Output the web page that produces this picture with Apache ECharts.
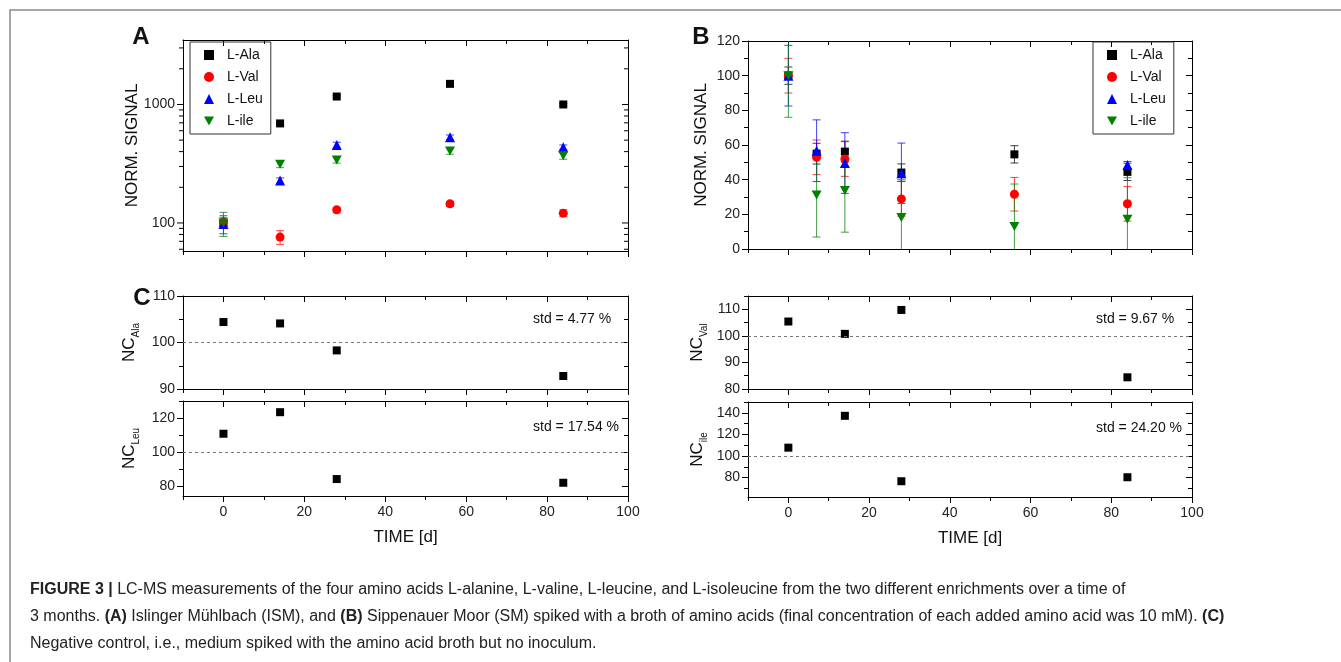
<!DOCTYPE html>
<html><head><meta charset="utf-8">
<script src="https://cdn.jsdelivr.net/npm/echarts@6/dist/echarts.min.js"></script>
<style>html,body{margin:0;padding:0;background:#fff}#c{width:1341px;height:662px}</style>
</head><body><div id="c"></div><script>
// ---------------- DATA ----------------
const seriesNames = ['L-Ala', 'L-Val', 'L-Leu', 'L-ile'];
// Panel A (ISM) – log scale
const daysA = [0, 14, 28, 56, 84];
const aAla = [100, 692, 1167, 1493, 1000];
const aAlaErr = [5, 15, 25, 30, 20];
const aVal = [102, 76, 129, 145, 121];
const aValErr = [9, 10, 7, 7, 8];
const aLeu = [98, 228, 455, 528, 435];
const aLeuErr = [17, 12, 25, 25, 20];
const aIle = [100, 313, 340, 405, 370];
const aIleErr = [23, 20, 20, 25, 25];
// Panel B (SM)
const daysB = [0, 7, 14, 28, 56, 84];
const bAla = [100, 55, 56.2, 44.1, 54.6, 44.5];
const bAlaErr = [5, 6, 6, 5, 5, 5];
const bVal = [100, 52.9, 51.9, 28.9, 31.6, 26.1];
const bValErr = [10, 10, 10, 10, 9.7, 10];
const bLeu = [100, 56.7, 49.6, 43.7, null, 48.5];
const bLeuErr = [17.5, 17.8, 17.5, 17.4, null, 2];
const bIle = [100, 31.2, 33.7, 18.2, 13, 17.1];
const bIleErr = [24, 24.3, 24, 22, 24.5, 24];
// Panel C – negative control
const daysC = [0, 14, 28, 84];
const ncAla = [104.4, 104.1, 98.3, 92.8];
const ncLeu = [110.7, 123.4, 84, 81.8];
const ncVal = [105.4, 100.75, 109.75, 84.4];
const ncIle = [107.7, 137.2, 76.6, 80.3];
const ncStd = ['4.77', '17.54', '9.67', '24.20'];
const ncRef = 100;
// Axis ranges / tick labels
const xRange = [-10, 100];
const xMajor = [0, 20, 40, 60, 80, 100];
const xMinor = [-10, 10, 30, 50, 70, 90];
const aRange = [58, 3500];
const aMajor = [100, 1000];
const aMinor = [60, 70, 80, 90, 200, 300, 400, 500, 600, 700, 800, 900, 2000, 3000];
const bRange = [0, 120];
const bMajor = [0, 20, 40, 60, 80, 100, 120];
const bMinor = [10, 30, 50, 70, 90, 110];
const cAlaRange = [90, 110], cAlaMajor = [90, 100, 110], cAlaMinor = [95, 105];
const cLeuRange = [74, 130], cLeuMajor = [80, 100, 120], cLeuMinor = [90, 110, 130];
const cValRange = [80, 115], cValMajor = [80, 90, 100, 110], cValMinor = [85, 95, 105, 115];
const cIleRange = [62, 150], cIleMajor = [80, 100, 120, 140], cIleMinor = [70, 90, 110, 130, 150];

// ---------------- STYLE ----------------
const FONT = '"Liberation Sans", Arial, Helvetica, sans-serif';
const seriesColors = ['#000000', '#ff0000', '#0000ff', '#008000'];
const symbols = ['rect', 'circle', 'triangle', 'path://M0,0L10,0L5,9Z'];
const symbolSizes = [8, 9, 10, [10, 9]];
const axisLS = { color: '#000', width: 1 };

const grids = [
  { left: 183, top: 40, width: 445, height: 211 },  // A
  { left: 748, top: 41, width: 444, height: 208 },  // B
  { left: 183, top: 296, width: 445, height: 93 },  // C Ala
  { left: 183, top: 401, width: 445, height: 95 },  // C Leu
  { left: 748, top: 296, width: 444, height: 93 },  // C Val
  { left: 748, top: 402, width: 444, height: 95 }   // C ile
];

const xAxes = [], yAxes = [];
function buildX(g, showLabels) {
  const base = { gridIndex: g, type: 'value', min: xRange[0], max: xRange[1], splitLine: { show: false } };
  const idx = xAxes.length;
  xAxes.push({ ...base, position: 'bottom', axisLine: { onZero: false, lineStyle: axisLS },
    axisTick: { customValues: xMajor, length: 6, lineStyle: axisLS },
    axisLabel: { show: showLabels, customValues: xMajor, fontSize: 14, color: '#222', margin: 9, fontFamily: FONT },
    name: showLabels ? 'TIME [d]' : '', nameLocation: 'middle', nameGap: 33, nameMoveOverlap: false,
    nameTextStyle: { fontSize: 17, color: '#111', fontFamily: FONT } });
  xAxes.push({ ...base, position: 'bottom', axisLine: { show: false, onZero: false },
    axisTick: { customValues: xMinor, length: 4, lineStyle: axisLS }, axisLabel: { show: false } });
  xAxes.push({ ...base, position: 'top', axisLine: { onZero: false, lineStyle: axisLS },
    axisTick: { inside: true, customValues: xMajor, length: 6, lineStyle: axisLS }, axisLabel: { show: false } });
  xAxes.push({ ...base, position: 'top', axisLine: { show: false, onZero: false },
    axisTick: { inside: true, customValues: xMinor, length: 4, lineStyle: axisLS }, axisLabel: { show: false } });
  return idx;
}
function buildY(g, range, major, minor, name, nameGap, rich) {
  const base = { gridIndex: g, type: 'value', min: range[0], max: range[1], splitLine: { show: false } };
  const idx = yAxes.length;
  yAxes.push({ ...base, position: 'left', axisLine: { onZero: false, lineStyle: axisLS },
    axisTick: { customValues: major, length: 6, lineStyle: axisLS },
    axisLabel: { customValues: major, fontSize: 14, color: '#222', margin: 8, fontFamily: FONT },
    name: name, nameLocation: 'middle', nameGap: nameGap, nameMoveOverlap: false,
    nameTextStyle: { fontSize: 17, color: '#111', fontFamily: FONT, rich: rich } });
  yAxes.push({ ...base, position: 'left', axisLine: { show: false, onZero: false },
    axisTick: { customValues: minor, length: 4, lineStyle: axisLS }, axisLabel: { show: false } });
  yAxes.push({ ...base, position: 'right', axisLine: { onZero: false, lineStyle: axisLS },
    axisTick: { inside: true, customValues: major, length: 6, lineStyle: axisLS }, axisLabel: { show: false } });
  yAxes.push({ ...base, position: 'right', axisLine: { show: false, onZero: false },
    axisTick: { inside: true, customValues: minor, length: 4, lineStyle: axisLS }, axisLabel: { show: false } });
  return idx;
}
function buildLogY(g) {
  const base = { gridIndex: g, type: 'log', logBase: 10, min: aRange[0], max: aRange[1], splitLine: { show: false } };
  const idx = yAxes.length;
  yAxes.push({ ...base, position: 'left', axisLine: { onZero: false, lineStyle: axisLS }, axisTick: { show: false },
    axisLabel: { fontSize: 14, color: '#222', margin: 8, fontFamily: FONT,
      formatter: v => aMajor.some(m => Math.abs(m - v) < 1e-6 * m) ? String(Math.round(v)) : '' },
    name: 'NORM. SIGNAL', nameLocation: 'middle', nameGap: 42, nameMoveOverlap: false,
    nameTextStyle: { fontSize: 17, color: '#111', fontFamily: FONT } });
  yAxes.push({ ...base, position: 'right', axisLine: { onZero: false, lineStyle: axisLS }, axisTick: { show: false },
    axisLabel: { show: false } });
  return idx;
}
const ncRich = () => ({
  a: { fontSize: 17, lineHeight: 20, verticalAlign: 'top', fontFamily: FONT, color: '#111' },
  b: { fontSize: 10, lineHeight: 20, verticalAlign: 'bottom', fontFamily: FONT, color: '#111' }
});

const xA = buildX(0, false);
const yA = buildLogY(0);
const xB = buildX(1, false);
const yB = buildY(1, bRange, bMajor, bMinor, 'NORM. SIGNAL', 38);
const xC1 = buildX(2, false);
const yC1 = buildY(2, cAlaRange, cAlaMajor, cAlaMinor, '{a|NC}{b|Ala}', 42, ncRich());
const xC2 = buildX(3, true);
const yC2 = buildY(3, cLeuRange, cLeuMajor, cLeuMinor, '{a|NC}{b|Leu}', 42, ncRich());
const xC3 = buildX(4, false);
const yC3 = buildY(4, cValRange, cValMajor, cValMinor, '{a|NC}{b|Val}', 39, ncRich());
const xC4 = buildX(5, true);
const yC4 = buildY(5, cIleRange, cIleMajor, cIleMinor, '{a|NC}{b|ile}', 39, ncRich());

// ---------------- SERIES ----------------
function zip(xs, ys) { return xs.map((x, i) => [x, ys[i]]).filter(d => d[1] != null); }
function scatter(name, xi, yi, xs, ys, k) {
  return { type: 'scatter', name: name, xAxisIndex: xi, yAxisIndex: yi, data: zip(xs, ys),
    symbol: symbols[k], symbolSize: symbolSizes[k], itemStyle: { color: seriesColors[k], opacity: 1 },
    z: 3, silent: true };
}
function errBars(xi, yi, xs, ys, es, k) {
  const color = seriesColors[k];
  return { type: 'custom', xAxisIndex: xi, yAxisIndex: yi, clip: true, silent: true, z: 2,
    data: xs.map((x, i) => (ys[i] == null || es[i] == null) ? null : [x, ys[i] - es[i], ys[i] + es[i]]).filter(Boolean),
    encode: { x: 0, y: [1, 2] },
    renderItem: function (params, api) {
      const x = api.value(0);
      const hi = api.coord([x, api.value(2)]);
      const lo = api.coord([x, api.value(1)]);
      const w = 4;
      const st = { stroke: color, lineWidth: 1, opacity: 0.75 };
      return { type: 'group', children: [
        { type: 'line', shape: { x1: hi[0], y1: hi[1], x2: lo[0], y2: lo[1] }, style: st },
        { type: 'line', shape: { x1: hi[0] - w, y1: hi[1], x2: hi[0] + w, y2: hi[1] }, style: st },
        { type: 'line', shape: { x1: lo[0] - w, y1: lo[1], x2: lo[0] + w, y2: lo[1] }, style: st }
      ] };
    } };
}
function logTicks(xi, yi, values, len) {
  return { type: 'custom', xAxisIndex: xi, yAxisIndex: yi, clip: false, silent: true, z: 5,
    data: values.map(v => [xRange[0], v]), encode: { x: 0, y: 1 },
    renderItem: function (params, api) {
      const p = api.coord([xRange[0], api.value(1)]);
      const q = api.coord([xRange[1], api.value(1)]);
      const st = { stroke: '#000', lineWidth: 1 };
      return { type: 'group', children: [
        { type: 'line', shape: { x1: p[0] - len, y1: p[1], x2: p[0], y2: p[1] }, style: st },
        { type: 'line', shape: { x1: q[0] - len, y1: q[1], x2: q[0], y2: q[1] }, style: st }
      ] };
    } };
}
function ncSeries(name, xi, yi, ys) {
  return { type: 'scatter', name: name, xAxisIndex: xi, yAxisIndex: yi, data: zip(daysC, ys),
    symbol: 'rect', symbolSize: 8, itemStyle: { color: '#000', opacity: 1 }, z: 3, silent: true,
    markLine: { silent: true, symbol: 'none', label: { show: false },
      lineStyle: { type: [3, 3], color: '#777', width: 1 }, data: [{ yAxis: ncRef }] } };
}

const aData = [[aAla, aAlaErr], [aVal, aValErr], [aLeu, aLeuErr], [aIle, aIleErr]];
const bData = [[bAla, bAlaErr], [bVal, bValErr], [bLeu, bLeuErr], [bIle, bIleErr]];
const series = [];
aData.forEach((d, k) => series.push(errBars(xA, yA, daysA, d[0], d[1], k)));
bData.forEach((d, k) => series.push(errBars(xB, yB, daysB, d[0], d[1], k)));
aData.forEach((d, k) => series.push(scatter(seriesNames[k], xA, yA, daysA, d[0], k)));
bData.forEach((d, k) => series.push(scatter(seriesNames[k], xB, yB, daysB, d[0], k)));
series.push(logTicks(xA, yA, aMajor, 6));
series.push(logTicks(xA, yA, aMinor, 4));
series.push(ncSeries('NC-Ala', xC1, yC1, ncAla));
series.push(ncSeries('NC-Leu', xC2, yC2, ncLeu));
series.push(ncSeries('NC-Val', xC3, yC3, ncVal));
series.push(ncSeries('NC-ile', xC4, yC4, ncIle));

const legendBase = { data: seriesNames, orient: 'vertical', itemWidth: 10, itemHeight: 10, itemGap: 8,
  padding: [6, 8, 6, 14], borderColor: '#333', borderWidth: 1, selectedMode: false,
  textStyle: { fontSize: 14, color: '#111', fontFamily: FONT, padding: [0, 0, 0, 8] } };

const txt = (x, y, text, size, weight, align) => ({ type: 'text', x: x, y: y, silent: true,
  style: { text: text, fontSize: size, fontWeight: weight || 'normal', fontFamily: FONT, fill: '#111',
    align: align || 'left', verticalAlign: 'middle' } });
const capRich = { b: { fontWeight: 'bold', fontSize: 16, fontFamily: FONT, fill: '#222' } };
const capLine = (y, text) => ({ type: 'text', x: 30, y: y, silent: true,
  style: { text: text, rich: capRich, fontSize: 16, fontFamily: FONT, fill: '#222', align: 'left', verticalAlign: 'middle' } });

const option = {
  animation: false,
  backgroundColor: '#ffffff',
  textStyle: { fontFamily: FONT },
  grid: grids,
  xAxis: xAxes,
  yAxis: yAxes,
  legend: [
    Object.assign({}, legendBase, { left: 190, top: 42 }),
    Object.assign({}, legendBase, { left: 1093, top: 42 })
  ],
  series: series,
  graphic: [
    { type: 'polyline', silent: true, shape: { points: [[10, 662], [10, 10], [1341, 10]] },
      style: { stroke: '#8a8a8a', lineWidth: 1.5, fill: null } },
    txt(141, 37, 'A', 24, 'bold', 'center'),
    txt(701, 37, 'B', 24, 'bold', 'center'),
    txt(142, 298, 'C', 24, 'bold', 'center'),
    txt(533, 319, 'std = ' + ncStd[0] + ' %', 14),
    txt(533, 427, 'std = ' + ncStd[1] + ' %', 14),
    txt(1096, 319, 'std = ' + ncStd[2] + ' %', 14),
    txt(1096, 428, 'std = ' + ncStd[3] + ' %', 14),
    capLine(590, '{b|FIGURE 3 |} LC-MS measurements of the four amino acids L-alanine, L-valine, L-leucine, and L-isoleucine from the two different enrichments over a time of'),
    capLine(617, '3 months. {b|(A)} Islinger Mühlbach (ISM), and {b|(B)} Sippenauer Moor (SM) spiked with a broth of amino acids (final concentration of each added amino acid was 10 mM). {b|(C)}'),
    capLine(644, 'Negative control, i.e., medium spiked with the amino acid broth but no inoculum.')
  ]
};
const chart = echarts.init(document.getElementById('c'), null, { renderer: 'canvas' });
chart.setOption(option);
</script></body></html>
